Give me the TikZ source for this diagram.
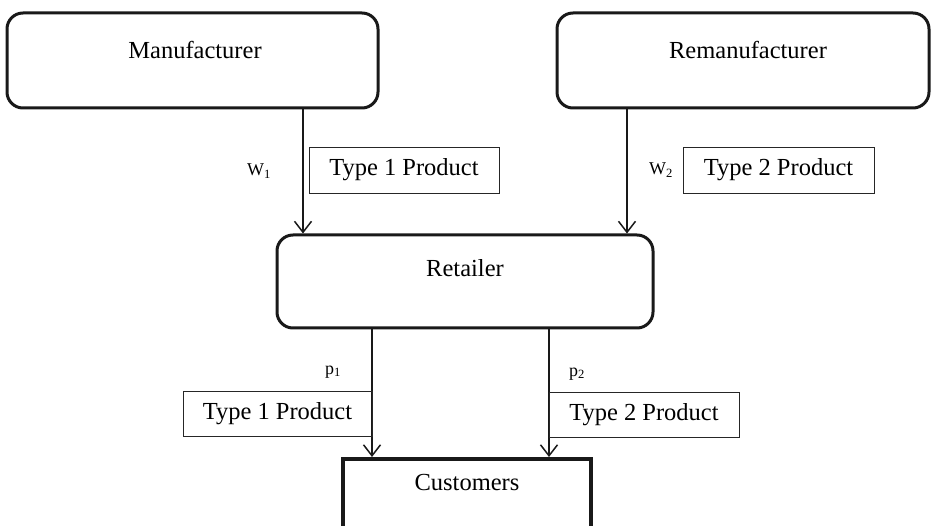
\documentclass[tikz,border=0pt]{standalone}
\usepackage{fontspec}
\setmainfont{Liberation Serif}
\usetikzlibrary{arrows.meta}
\begin{document}
\begin{tikzpicture}[x=1pt,y=-1pt,
  party/.style={draw=black!90, line width=3pt, rounded corners=16pt, inner sep=0pt},
  sink/.style={draw=black!90, line width=3.6pt, inner sep=0pt},
  tag/.style={draw=black!85, line width=0.9pt, inner sep=0pt, minimum height=46pt},
  txt/.style={font=\fontsize{24.5}{28}\selectfont, inner sep=0pt},
  sym/.style={font=\fontsize{18}{21}\selectfont, inner sep=0pt},
  flow/.style={line width=1.5pt, draw=black!90, -{Straight Barb[length=11pt,width=17pt,line width=1.5pt]}}]
\useasboundingbox (0,0) rectangle (931,526);
\clip (0,0) rectangle (931,526);

% the three upstream parties
\node[party, minimum width=371pt, minimum height=95pt] (man) at (192.5,60.5) {};
\node[party, minimum width=372pt, minimum height=95pt] (reman) at (743,60.5) {};
\node[party, minimum width=376pt, minimum height=93pt] (ret) at (465,281.5) {};
\node[txt] (manT) at (195,50) {Manufacturer};
\node[txt] (remanT) at (748,50) {Remanufacturer};
\node[txt] (retT) at (465,268) {Retailer};

% customers box, running off the lower edge
\node[sink, minimum width=248pt, minimum height=100pt, anchor=north] (cust) at (467,457) {};
\node[txt] (custT) at (467,483) {Customers};

% columns of the flows
\coordinate (c1) at (303,0);
\coordinate (c2) at (627,0);
\coordinate (c3) at (372,0);
\coordinate (c4) at (549,0);

\draw[flow] (man.south -| c1) -- (ret.north -| c1);
\draw[flow] (reman.south -| c2) -- (ret.north -| c2);
\draw[flow] (ret.south -| c3) -- (cust.north -| c3);
\draw[flow] (ret.south -| c4) -- (cust.north -| c4);

% product tags and price labels
\node[tag, minimum width=190pt] (t1) at (404,170) {};
\node[txt] (t1T) at (404,170) {Type 1 Product};
\node[tag, minimum width=191pt] (t2) at (778.5,170) {};
\node[txt] (t2T) at (778.5,170) {Type 2 Product};
\node[tag, minimum width=189pt, minimum height=45pt] (t3) at (277.5,413.5) {};
\node[txt] (t3T) at (277.5,413.5) {Type 1 Product};
\node[tag, minimum width=190pt, minimum height=45pt] (t4) at (644,414.5) {};
\node[txt] (t4T) at (644,414.5) {Type 2 Product};

\node[sym] (w1) at (259,171) {W\textsubscript{1}};
\node[sym] (w2) at (661,170) {W\textsubscript{2}};
\node[sym] (p1) at (333,372) {p\textsubscript{1}};
\node[sym] (p2) at (577,374) {p\textsubscript{2}};
\end{tikzpicture}
\end{document}
